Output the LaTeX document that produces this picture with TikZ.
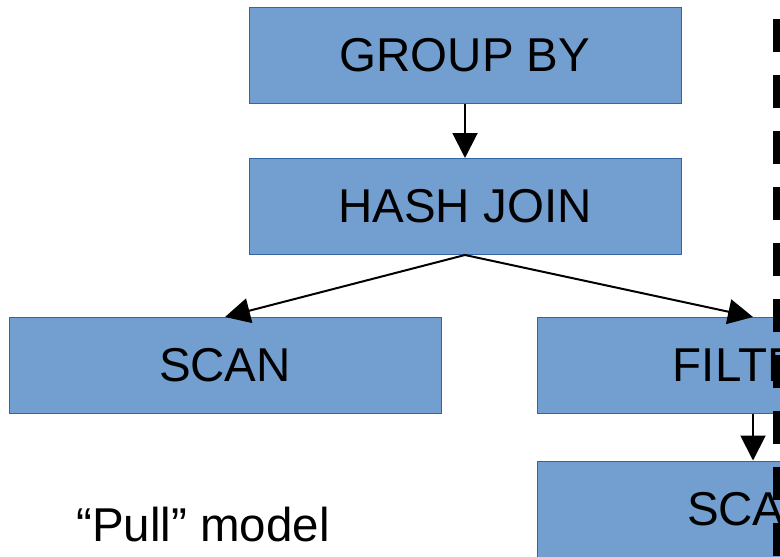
\documentclass[tikz,border=0pt]{standalone}
\usepackage{fontspec}
\setmainfont{Liberation Sans}
\usetikzlibrary{arrows.meta}
\definecolor{opfill}{HTML}{729FCF}
\definecolor{opline}{HTML}{3465A4}
\tikzset{
  opbox/.style={draw=opline, line width=1pt, fill=opfill, minimum width=432pt,
    minimum height=96pt, inner sep=0pt, font=\fontsize{47.5}{57}\selectfont},
  flow/.style={line width=2pt, -{Triangle[length=25pt,width=25pt]}},
  divider/.style={line width=8pt, dash pattern=on 33pt off 23pt}
}
\begin{document}
\begin{tikzpicture}[x=1pt,y=-1pt]
\useasboundingbox (0,0) rectangle (780,557);
\clip (0,0) rectangle (780,557);
\node[opbox] (gb) at (465,55) {GROUP BY};
\node[opbox] (hj) at (465,206.5) {HASH JOIN};
\node[opbox] (scan) at (225,365.5) {SCAN};
\node[opbox] (filter) at (753,365.5) {FILTER};
\node[opbox] (scan2) at (753,509) {SCAN};
\draw[flow] (gb.south) -- (hj.north);
\draw[flow] (hj.south) -- (scan.north);
\draw[flow] (hj.south) -- (filter.north);
\draw[flow] (filter.south) -- (scan2.north);
\node[font=\fontsize{47.5}{57}\selectfont, inner sep=0pt] (label) at (203,525) {“Pull” model};
\coordinate (dtop) at (777,19);
\coordinate (dbot) at (777,560);
\draw[divider] (dtop) -- (dbot);
\end{tikzpicture}
\end{document}
